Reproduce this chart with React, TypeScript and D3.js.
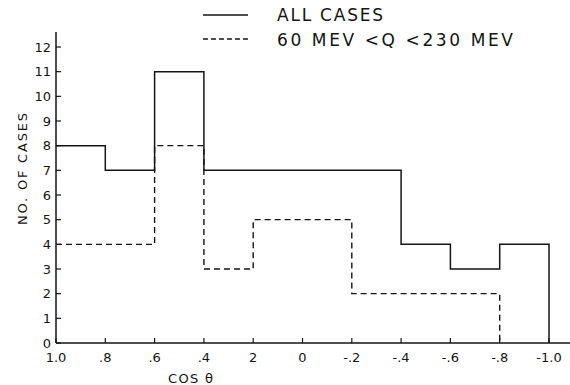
import React from "react";
import * as d3 from "d3";

// Bin edges of cos θ, from 1.0 down to -1.0
const binEdges = [1.0, 0.8, 0.6, 0.4, 0.2, 0.0, -0.2, -0.4, -0.6, -0.8, -1.0];
// Counts per bin (left to right)
const allCases = [8, 7, 11, 7, 7, 7, 7, 4, 3, 4];
const qWindowCases = [4, 4, 8, 3, 5, 5, 2, 2, 2, 0];

const xTickValues = [1.0, 0.8, 0.6, 0.4, 0.2, 0.0, -0.2, -0.4, -0.6, -0.8, -1.0];
const xTickLabels = ["1.0", ".8", ".6", ".4", "2", "0", "-.2", "-.4", "-.6", "-.8", "-1.0"];
const yTickValues = [0, 1, 2, 3, 4, 5, 6, 7, 8, 9, 10, 11, 12];

const legendLabels = ["ALL CASES", "60 MEV <Q <230 MEV"];

const W = 570;
const H = 385;
const ink = "#141414";
const font = "'DejaVu Sans', 'Liberation Sans', Arial, sans-serif";

export default function App() {
  const x = d3.scaleLinear().domain([1.0, -1.0]).range([56, 549]);
  const y = d3.scaleLinear().domain([0, 12]).range([343, 47]);

  // Build a step outline from bin counts
  const stepPoints = (counts: number[]) => {
    const pts: [number, number][] = [];
    counts.forEach((c, i) => {
      pts.push([binEdges[i], c]);
      pts.push([binEdges[i + 1], c]);
    });
    pts.push([binEdges[binEdges.length - 1], 0]);
    return pts;
  };

  const line = d3
    .line<[number, number]>()
    .x((d) => x(d[0]))
    .y((d) => y(d[1]));

  // The dashed series is zero on the last bin; stop where it reaches the axis
  const qPts = stepPoints(qWindowCases).slice(0, -2);
  const allPts = stepPoints(allCases);

  return (
    <svg
      width={W}
      height={H}
      style={{ position: "absolute", left: 0, top: 0, background: "#fff" }}
    >
      {/* axes */}
      <line x1={56} x2={570} y1={y(0)} y2={y(0)} stroke={ink} strokeWidth={1.5} />
      <line x1={56} x2={56} y1={32} y2={y(0)} stroke={ink} strokeWidth={1.5} />

      {/* y ticks */}
      {yTickValues.map((v) => (
        <g key={"y" + v}>
          <line x1={56} x2={61} y1={y(v)} y2={y(v)} stroke={ink} strokeWidth={1.2} />
          <text
            x={51}
            y={y(v)}
            dy="0.36em"
            textAnchor="end"
            fontFamily={font}
            fontSize={13}
            fill={ink}
          >
            {v}
          </text>
        </g>
      ))}

      {/* x ticks */}
      {xTickValues.map((v, i) => (
        <g key={"x" + i}>
          <line x1={x(v)} x2={x(v)} y1={y(0)} y2={y(0) - 5} stroke={ink} strokeWidth={1.2} />
          <text
            x={x(v)}
            y={362}
            textAnchor="middle"
            fontFamily={font}
            fontSize={13}
            fill={ink}
          >
            {xTickLabels[i]}
          </text>
        </g>
      ))}

      {/* axis titles */}
      <text
        transform={`translate(27,169) rotate(-90)`}
        textAnchor="middle"
        fontFamily={font}
        fontSize={13}
        textLength={112}
        lengthAdjust="spacing"
        fill={ink}
      >
        NO.  OF  CASES
      </text>
      <text
        x={168}
        y={383}
        fontFamily={font}
        fontSize={13}
        textLength={45}
        lengthAdjust="spacing"
        fill={ink}
      >
        COS θ
      </text>

      {/* histograms */}
      <path
        d={line(qPts) || ""}
        fill="none"
        stroke={ink}
        strokeWidth={1.4}
        strokeDasharray="6,4"
      />
      <path d={line(allPts) || ""} fill="none" stroke={ink} strokeWidth={1.5} />

      {/* legend */}
      <line x1={203} x2={248} y1={15} y2={15} stroke={ink} strokeWidth={1.4} />
      <text
        x={277}
        y={21}
        fontFamily={font}
        fontSize={17}
        textLength={106}
        lengthAdjust="spacing"
        fill={ink}
      >
        {legendLabels[0]}
      </text>
      <line
        x1={203}
        x2={248}
        y1={39}
        y2={39}
        stroke={ink}
        strokeWidth={1.3}
        strokeDasharray="5,3"
      />
      <text
        x={277}
        y={46}
        fontFamily={font}
        fontSize={17}
        textLength={236}
        lengthAdjust="spacing"
        fill={ink}
      >
        {legendLabels[1]}
      </text>
    </svg>
  );
}
